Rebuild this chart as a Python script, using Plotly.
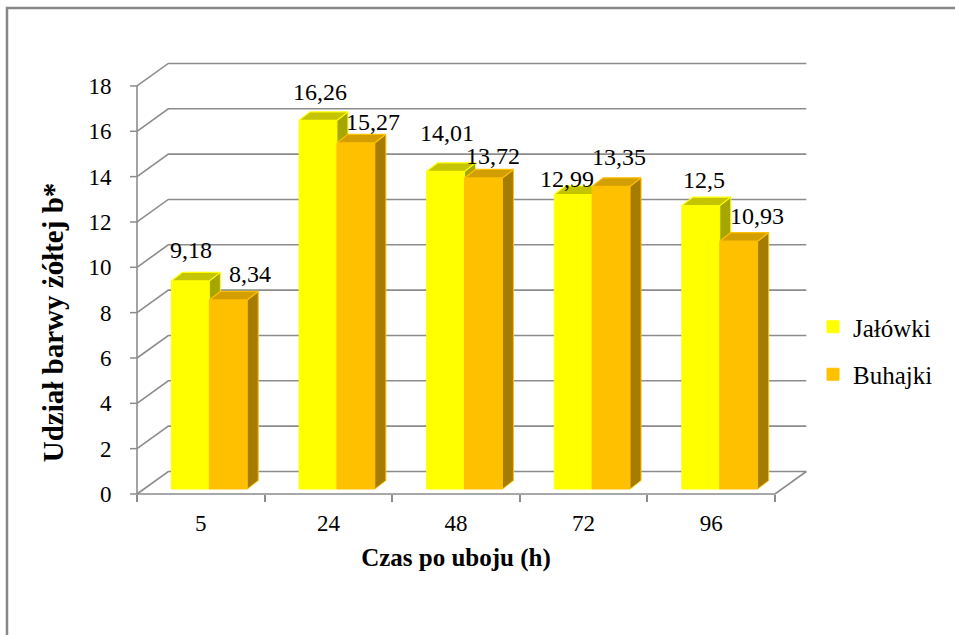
import plotly.graph_objects as go

# ---- data ----
categories = ["5", "24", "48", "72", "96"]
jalowki = [9.18, 16.26, 14.01, 12.99, 12.5]
buhajki = [8.34, 15.27, 13.72, 13.35, 10.93]
y_ticks = [0, 2, 4, 6, 8, 10, 12, 14, 16, 18]
series_names = ["Jałówki", "Buhajki"]

# per-label nudges (px) for the value labels
label_dx = [[0.6, 2, 1.4, -6.5, 3.2], [21.7, 17.1, 9, 7.9, 18.3]]
label_dy = [[22.4, 19.4, 29.4, 7, 17], [17.4, 12.8, 13, 20.4, 16.7]]

# ---- colours ----
FRONT = ["#FFFF00", "#FFC000"]
TOP = ["#C4C400", "#D29E00"]
SIDE = ["#A6A600", "#A67C00"]
GRID = "#8C8C8C"
CLEAR = "rgba(0,0,0,0)"
FONT = "Liberation Serif"

# ---- pixel geometry of the plotting area ----
W, H = 955, 635
L, R, T, B = 100, 812, 55, 590
X0_PX = 137.0      # pixel of x = -0.5 (front-left corner)
CAT_PX = 127.6     # pixels per category
Y0_PX = 494.0      # pixel of y = 0 on the front plane
UNIT_PX = 22.67    # pixels per value unit
TICK_PX = 7.0      # visible tick length

x_min = -0.5 - (X0_PX - L) / CAT_PX
x_max = -0.5 + (R - X0_PX) / CAT_PX
y_min = -(B - Y0_PX) / UNIT_PX
y_max = (Y0_PX - T) / UNIT_PX

n = len(categories)
# depth of the walls (oblique projection)
DX = 31.3 / CAT_PX
DY = 22.5 / UNIT_PX
# column geometry
BASE = 5.0 / UNIT_PX
BAR_W = 0.297
OFFS = [-0.230, 0.067]
BDX = 11.0 / CAT_PX
BDY = 8.5 / UNIT_PX

fig = go.Figure()

# walls, floor, value axis line and its tick marks
shapes = []
for v in y_ticks:
    shapes.append(dict(
        type="path", xref="x", yref="y", layer="below",
        path=f"M {-0.5},{v} L {-0.5 + DX},{v + DY} L {n - 0.5 + DX},{v + DY}",
        line=dict(color=GRID, width=1.6)))
    shapes.append(dict(
        type="line", xref="x", yref="y", layer="below",
        x0=-0.5 - TICK_PX / CAT_PX, x1=-0.5, y0=v, y1=v,
        line=dict(color=GRID, width=1.5)))
shapes.append(dict(
    type="path", xref="x", yref="y", layer="below",
    path=f"M {-0.5},0 L {n - 0.5},0 L {n - 0.5 + DX},{DY}",
    line=dict(color=GRID, width=1.6)))
shapes.append(dict(
    type="path", xref="x", yref="y", layer="below",
    path=f"M {-0.5},{y_ticks[-1]} L {-0.5},0",
    line=dict(color=GRID, width=1.6)))


def px_x(p):
    return (p - L) / (R - L)


def px_y(p):
    return (B - p) / (B - T)


# outer chart border
shapes.append(dict(type="rect", xref="paper", yref="paper",
                   x0=px_x(7), x1=px_x(965), y0=px_y(645), y1=px_y(8),
                   line=dict(color="#888888", width=2.5)))

# columns: each series on its own overlaid subplot so the later one hides the earlier
axes = [("x", "y"), ("x2", "y2")]
annotations = []
for s, vals in enumerate([jalowki, buhajki]):
    xa, ya = axes[s]
    o = OFFS[s]
    top_x, top_y, side_x, side_y = [], [], [], []
    for k, v in enumerate(vals):
        xl = k + o
        xr = xl + BAR_W
        yb = BASE
        yt = BASE + v
        top_x += [xl, xr, xr + BDX, xl + BDX, xl, None]
        top_y += [yt, yt, yt + BDY, yt + BDY, yt, None]
        side_x += [xr, xr, xr + BDX, xr + BDX, xr, None]
        side_y += [yb, yt, yt + BDY, yb + BDY, yb, None]
        annotations.append(dict(
            x=xl + BAR_W / 2, y=yt + BDY, xref="x", yref="y",
            text=f"{v:g}".replace(".", ","), showarrow=False,
            xanchor="center", yanchor="middle",
            xshift=label_dx[s][k], yshift=label_dy[s][k],
            font=dict(family=FONT, size=24, color="#000000")))
    fig.add_trace(go.Bar(
        x=list(range(n)), y=vals, base=BASE, offset=o, width=BAR_W,
        name=series_names[s], legendgroup=series_names[s],
        marker=dict(color=FRONT[s], line=dict(color=FRONT[s], width=1)),
        xaxis=xa, yaxis=ya))
    fig.add_trace(go.Scatter(
        x=side_x, y=side_y, mode="lines", fill="toself", fillcolor=SIDE[s],
        line=dict(color=FRONT[s], width=1), showlegend=False,
        hoverinfo="skip", xaxis=xa, yaxis=ya))
    fig.add_trace(go.Scatter(
        x=top_x, y=top_y, mode="lines", fill="toself", fillcolor=TOP[s],
        line=dict(color=FRONT[s], width=1.2), showlegend=False,
        hoverinfo="skip", xaxis=xa, yaxis=ya))

fig.update_layout(
    width=W, height=H,
    margin=dict(l=L, r=W - R, t=T, b=H - B, pad=0),
    paper_bgcolor="white", plot_bgcolor="white",
    barmode="overlay",
    font=dict(family=FONT, color="#000000"),
    shapes=shapes, annotations=annotations,
    showlegend=True,
    legend=dict(x=px_x(813), y=px_y(304), xanchor="left", yanchor="top",
                font=dict(family=FONT, size=25), bgcolor="rgba(0,0,0,0)",
                tracegroupgap=12, itemclick=False),
    xaxis=dict(range=[x_min, x_max], tickvals=list(range(n)), ticktext=categories,
               ticks="outside", ticklen=8, tickcolor=CLEAR,
               showgrid=False, zeroline=False, showline=False,
               anchor="free", position=px_y(Y0_PX),
               tickfont=dict(family=FONT, size=23),
               minor=dict(tickmode="array", tickvals=[k - 0.5 for k in range(n + 1)],
                          ticks="outside", ticklen=TICK_PX, tickwidth=1.5,
                          tickcolor=GRID, showgrid=False),
               title=dict(text="<b>Czas po uboju (h)</b>", standoff=13,
                          font=dict(family=FONT, size=25))),
    yaxis=dict(range=[y_min, y_max], tickvals=y_ticks,
               ticks="outside", ticklen=21, tickcolor=CLEAR,
               showgrid=False, zeroline=False, showline=False,
               anchor="free", position=px_x(X0_PX),
               tickfont=dict(family=FONT, size=23),
               title=dict(text="<b>Udział barwy żółtej b*</b>", standoff=15,
                          font=dict(family=FONT, size=29))),
    xaxis2=dict(overlaying="x", matches="x", visible=False, anchor="y2"),
    yaxis2=dict(overlaying="y", matches="y", visible=False, anchor="x2"),
)

fig.write_html("out.html")
